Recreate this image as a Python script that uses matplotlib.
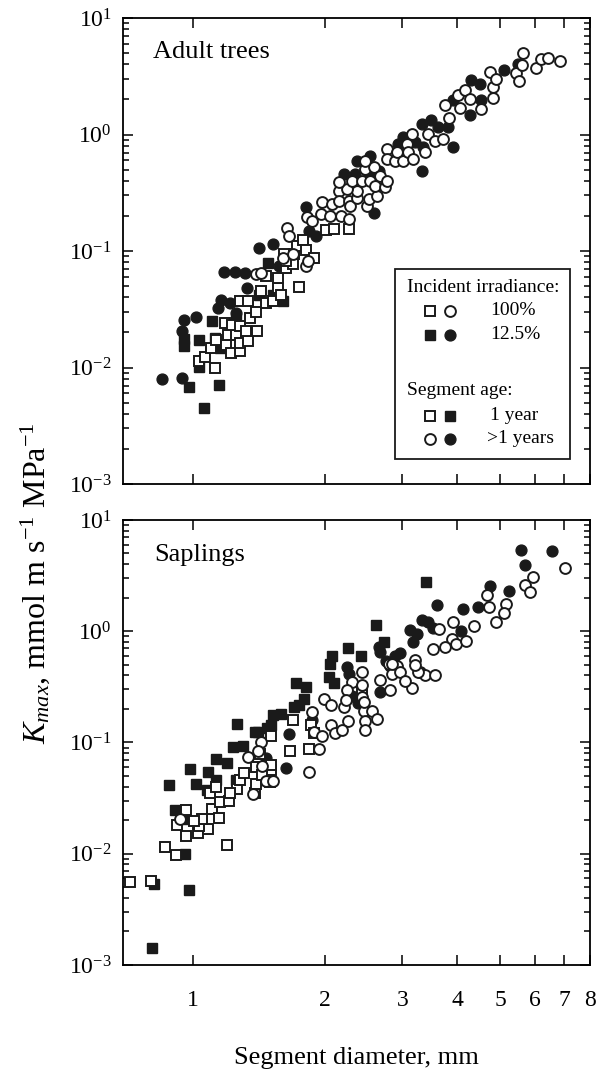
import matplotlib
matplotlib.use("Agg")
import matplotlib.pyplot as plt
from matplotlib.ticker import FixedLocator, NullLocator, NullFormatter, LogLocator
from matplotlib.patches import Rectangle

plt.rcParams['font.family'] = ['Liberation Serif', 'DejaVu Serif']
plt.rcParams['mathtext.fontset'] = 'custom'
plt.rcParams['mathtext.rm'] = 'Liberation Serif'
plt.rcParams['mathtext.it'] = 'Liberation Serif:italic'
plt.rcParams['mathtext.bf'] = 'Liberation Serif:bold'
plt.rcParams['axes.unicode_minus'] = False

# ---- Adult trees ----
# open squares: 100% irradiance, 1 year segments
adult_sq_open_d = [1.035, 1.123, 1.066, 1.104, 1.133, 1.193, 1.224, 1.279, 1.203, 1.257,
                   1.283, 1.335, 1.183, 1.231, 1.279, 1.324, 1.352, 1.405, 1.279, 1.335,
                   1.395, 1.431, 1.469, 1.525, 1.561, 1.588, 1.469, 1.561, 1.630, 1.616,
                   1.701, 1.688, 1.747, 1.732, 1.783, 1.809, 1.889, 2.007, 2.096, 2.266, 1.630]
adult_sq_open_k = [0.0114, 0.00986, 0.0124, 0.0147, 0.0173, 0.0157, 0.0133, 0.0139, 0.0191, 0.0191,
                   0.0162, 0.0168, 0.0241, 0.0233, 0.0226, 0.0204, 0.0266, 0.0207, 0.0371, 0.0371,
                   0.030, 0.0452, 0.0359, 0.0371, 0.0483, 0.0423, 0.0609, 0.0589, 0.0718, 0.0936,
                   0.0936, 0.0767, 0.0489, 0.110, 0.124, 0.103, 0.0876, 0.151, 0.154, 0.154, 0.082]
# filled squares: 12.5% irradiance, 1 year segments
adult_sq_fill_d = [0.983, 1.063, 1.147, 1.035, 0.956, 0.956, 1.035, 1.108, 1.123, 1.481,
                   1.602, 1.520, 1.419, 1.257, 1.153]
adult_sq_fill_k = [0.00677, 0.00446, 0.0071, 0.0101, 0.0152, 0.0177, 0.0173, 0.0253, 0.0179, 0.0793,
                   0.0371, 0.0423, 0.0423, 0.0258, 0.0147]
# open circles: 100% irradiance, >1 year segments
adult_ci_open_d = [1.395, 1.431, 1.602, 1.644, 1.659, 1.688, 1.815, 1.828, 1.825, 1.955,
                   1.972, 2.059, 2.078, 2.151, 2.151, 2.170, 2.266, 2.266, 2.286, 2.366,
                   2.366, 2.246, 2.151, 2.306, 2.429, 2.536, 2.471, 2.580, 2.471, 2.493,
                   2.515, 2.626, 2.672, 2.603, 2.742, 2.766, 2.766, 2.766, 2.888, 2.913,
                   3.017, 3.070, 3.096, 3.150, 3.177, 3.376, 3.435, 3.557, 3.714, 3.746,
                   3.825, 4.015, 4.050, 4.157, 4.266, 4.533, 4.735, 4.818, 4.818, 4.902,
                   5.438, 5.535, 5.604, 5.634, 6.036, 6.195, 6.413, 6.844, 1.873]
adult_ci_open_k = [0.063, 0.065, 0.0876, 0.159, 0.135, 0.0936, 0.0743, 0.082, 0.194, 0.207,
                   0.261, 0.200, 0.253, 0.329, 0.270, 0.200, 0.188, 0.270, 0.244, 0.288,
                   0.329, 0.340, 0.388, 0.401, 0.401, 0.401, 0.506, 0.523, 0.597, 0.244,
                   0.279, 0.298, 0.443, 0.363, 0.352, 0.401, 0.752, 0.617, 0.597, 0.705,
                   0.597, 0.831, 0.705, 1.01, 0.617, 0.705, 1.01, 0.888, 0.918, 1.78,
                   1.39, 2.17, 1.70, 2.40, 2.03, 1.66, 3.45, 2.56, 2.07, 3.02,
                   3.38, 2.88, 3.99, 5.02, 3.76, 4.49, 4.58, 4.29, 0.181]
# filled circles: 12.5% irradiance, >1 year segments
adult_ci_fill_d = [0.851, 0.944, 0.956, 0.944, 1.021, 1.177, 1.246, 1.317, 1.331, 1.162,
                   1.143, 1.214, 1.257, 1.419, 1.520, 1.575, 1.809, 1.841, 1.906, 2.208,
                   2.366, 2.346, 2.536, 2.515, 2.649, 2.580, 2.939, 3.017, 3.204, 3.346,
                   3.316, 3.316, 3.477, 3.619, 3.812, 3.913, 3.913, 4.304, 4.494, 4.266,
                   4.533, 5.101, 5.486]
adult_ci_fill_k = [0.00793, 0.0082, 0.0258, 0.0204, 0.027, 0.0664, 0.0664, 0.065, 0.0483, 0.0383,
                   0.0325, 0.0359, 0.0294, 0.107, 0.116, 0.0743, 0.240, 0.149, 0.135, 0.458,
                   0.597, 0.458, 0.659, 0.458, 0.489, 0.214, 0.831, 0.961, 0.859, 0.777,
                   0.489, 1.22, 1.34, 1.16, 1.16, 0.777, 1.96, 2.92, 2.73, 1.46,
                   1.96, 3.61, 4.06]

# ---- Saplings ----
sap_sq_open_d = [0.722, 0.805, 0.866, 0.915, 1.197, 0.920, 0.969, 1.028, 1.084, 1.033,
                 1.051, 1.007, 0.964, 1.109, 1.147, 1.152, 1.094, 1.208, 1.264, 1.214,
                 1.279, 1.389, 1.394, 1.312, 1.394, 1.133, 1.69, 1.51, 1.51, 1.50,
                 1.51, 1.44, 1.42, 1.67, 1.84, 1.86, 1.89, 2.43]
sap_sq_open_k = [0.00557, 0.00569, 0.0115, 0.0098, 0.0119, 0.0183, 0.0145, 0.0152, 0.0167, 0.0177,
                 0.0204, 0.0196, 0.0246, 0.0252, 0.0211, 0.0294, 0.035, 0.0299, 0.0381, 0.035,
                 0.0464, 0.035, 0.042, 0.053, 0.0603, 0.0394, 0.160, 0.115, 0.0565, 0.0439,
                 0.0631, 0.0508, 0.0782, 0.084, 0.0872, 0.145, 0.121, 0.277]
sap_sq_fill_d = [1.261, 1.389, 1.235, 1.301, 1.133, 1.197, 0.986, 1.084, 0.885, 1.021,
                 1.079, 1.133, 0.912, 0.961, 0.961, 0.819, 0.982, 1.257, 0.808,
                 2.10, 1.72, 1.81, 1.79, 1.75, 1.70, 1.59, 1.52, 1.51, 1.48, 1.41,
                 2.61, 2.72, 2.26, 2.41, 2.08, 2.05, 2.04, 3.40]
sap_sq_fill_k = [0.148, 0.124, 0.0912, 0.0925, 0.0711, 0.0658, 0.0577, 0.0547, 0.0415, 0.042,
                 0.0374, 0.0464, 0.0246, 0.0204, 0.00994, 0.00532, 0.00476, 0.0464, 0.00143,
                 0.340, 0.340, 0.318, 0.245, 0.215, 0.208, 0.182, 0.176, 0.145, 0.136, 0.123,
                 1.14, 0.797, 0.708, 0.594, 0.594, 0.504, 0.387, 2.77]
sap_ci_open_d = [7.02, 5.93, 5.69, 5.86, 4.67, 4.71, 5.16, 5.11, 4.90, 3.90,
                 4.36, 3.63, 3.88, 3.98, 4.19, 3.52, 3.74, 3.20, 2.43, 2.79,
                 2.91, 3.29, 3.37, 3.56, 2.67, 2.84, 2.30, 1.99, 2.06, 1.87,
                 1.89, 1.97, 2.06, 1.43, 0.936, 1.335, 1.370, 1.406, 1.47, 1.52,
                 1.44, 1.84, 1.94, 2.21, 2.26, 2.45, 2.47, 2.47, 2.56, 2.62,
                 2.43, 2.81, 3.15, 2.45, 2.11, 2.19, 2.25, 2.23, 2.43,
                 2.96, 3.04, 3.26, 2.84, 3.20]
sap_ci_open_k = [3.72, 3.06, 2.60, 2.23, 2.10, 1.66, 1.75, 1.46, 1.22, 1.22,
                 1.11, 1.05, 0.851, 0.771, 0.824, 0.690, 0.723, 0.556, 0.427, 0.504,
                 0.488, 0.427, 0.401, 0.401, 0.363, 0.414, 0.351, 0.245, 0.215, 0.188,
                 0.123, 0.115, 0.145, 0.101, 0.0207, 0.0734, 0.0345, 0.0838, 0.0455, 0.0455,
                 0.0608, 0.0545, 0.0872, 0.207, 0.155, 0.193, 0.155, 0.130, 0.193, 0.161,
                 0.257, 0.297, 0.308, 0.231, 0.121, 0.130, 0.298, 0.239, 0.331,
                 0.427, 0.356, 0.427, 0.511, 0.493]
sap_ci_fill_d = [5.58, 6.55, 5.69, 4.75, 5.25, 3.60, 4.12, 4.45, 3.32, 3.43,
                 3.52, 4.08, 3.12, 3.23, 3.17, 2.65, 2.67, 2.96, 2.89, 2.76,
                 2.81, 2.24, 2.27, 1.66, 1.87, 2.67, 1.63, 1.47, 2.30, 2.38]
sap_ci_fill_k = [5.35, 5.25, 3.93, 2.56, 2.31, 1.73, 1.57, 1.64, 1.25, 1.22,
                 1.07, 1.00, 1.02, 0.94, 0.798, 0.723, 0.655, 0.634, 0.594, 0.538,
                 0.488, 0.472, 0.414, 0.119, 0.160, 0.286, 0.0586, 0.0729, 0.26, 0.224]

xticks = [1, 2, 3, 4, 5, 6, 7, 8]
xtick_labels = ['1', '2', '3', '4', '5', '6', '7', '8']


def style_axis(ax, show_xlabels):
    ax.set_xscale('log')
    ax.set_yscale('log')
    ax.set_xlim(0.695, 8.0)
    ax.set_ylim(1e-3, 1e1)
    ax.xaxis.set_major_locator(FixedLocator(xticks))
    ax.xaxis.set_minor_locator(NullLocator())
    if show_xlabels:
        ax.set_xticklabels(xtick_labels)
    else:
        ax.xaxis.set_major_formatter(NullFormatter())
    ax.xaxis.set_minor_formatter(NullFormatter())
    ax.yaxis.set_major_locator(LogLocator(base=10, numticks=10))
    ax.yaxis.set_minor_locator(LogLocator(base=10, subs=range(2, 10), numticks=10))
    ax.yaxis.set_minor_formatter(NullFormatter())
    ax.tick_params(which='both', direction='in', top=True, right=True, width=1.1)
    ax.tick_params(which='major', length=7, labelsize=17, pad=8)
    ax.tick_params(axis='x', which='major', pad=18)
    ax.tick_params(which='minor', length=4)
    for s in ax.spines.values():
        s.set_linewidth(1.3)


def draw(ax, sq_open, sq_fill, ci_open, ci_fill):
    ax.plot(sq_fill[0], sq_fill[1], linestyle='none', marker='s', ms=6.8,
            mfc='#1a1a1a', mec='#1a1a1a', mew=1.0, zorder=3)
    ax.plot(ci_fill[0], ci_fill[1], linestyle='none', marker='o', ms=7.8,
            mfc='#1a1a1a', mec='#1a1a1a', mew=1.0, zorder=3)
    ax.plot(sq_open[0], sq_open[1], linestyle='none', marker='s', ms=6.8,
            mfc='white', mec='#1a1a1a', mew=1.4, zorder=4)
    ax.plot(ci_open[0], ci_open[1], linestyle='none', marker='o', ms=7.8,
            mfc='white', mec='#1a1a1a', mew=1.4, zorder=4)


fig = plt.figure(figsize=(6, 10.79), dpi=100)
ax1 = fig.add_axes([0.205, 0.5514, 0.778, 0.4319])
ax2 = fig.add_axes([0.205, 0.1057, 0.778, 0.4124])

draw(ax1, (adult_sq_open_d, adult_sq_open_k), (adult_sq_fill_d, adult_sq_fill_k),
     (adult_ci_open_d, adult_ci_open_k), (adult_ci_fill_d, adult_ci_fill_k))
draw(ax2, (sap_sq_open_d, sap_sq_open_k), (sap_sq_fill_d, sap_sq_fill_k),
     (sap_ci_open_d, sap_ci_open_k), (sap_ci_fill_d, sap_ci_fill_k))

style_axis(ax1, False)
style_axis(ax2, True)

ax1.text(0.064, 0.927, 'Adult trees', transform=ax1.transAxes, fontsize=19, va='center')
ax2.text(0.066, 0.922, 'Saplings', transform=ax2.transAxes, fontsize=19, va='center')

# legend box (drawn by hand, as in the original figure)
ax1.add_patch(Rectangle((0.582, 0.054), 0.375, 0.408, transform=ax1.transAxes,
                        facecolor='white', edgecolor='#1a1a1a', lw=1.3, zorder=5))
lt = dict(transform=ax1.transAxes, fontsize=14, va='center', zorder=6)
ax1.text(0.608, 0.422, 'Incident irradiance:', **lt)
ax1.text(0.786, 0.372, '100%', **lt)
ax1.text(0.786, 0.320, '12.5%', **lt)
ax1.text(0.608, 0.201, 'Segment age:', **lt)
ax1.text(0.786, 0.147, '1 year', **lt)
ax1.text(0.779, 0.097, '>1 years', **lt)
mk = dict(transform=ax1.transAxes, linestyle='none', zorder=6, clip_on=False, mec='#1a1a1a')
sq = dict(marker='s', ms=6.8)
ci = dict(marker='o', ms=7.8)
ax1.plot([0.657], [0.372], mfc='white', mew=1.4, **sq, **mk)
ax1.plot([0.700], [0.372], mfc='white', mew=1.4, **ci, **mk)
ax1.plot([0.657], [0.320], mfc='#1a1a1a', **sq, **mk)
ax1.plot([0.700], [0.320], mfc='#1a1a1a', **ci, **mk)
ax1.plot([0.657], [0.147], mfc='white', mew=1.4, **sq, **mk)
ax1.plot([0.700], [0.147], mfc='#1a1a1a', **sq, **mk)
ax1.plot([0.657], [0.097], mfc='white', mew=1.4, **ci, **mk)
ax1.plot([0.700], [0.097], mfc='#1a1a1a', **ci, **mk)

ax2.set_xlabel('Segment diameter, mm', fontsize=19, labelpad=26)
fig.text(0.058, 0.46, r'$K_{max}$, mmol m s$^{-1}$ MPa$^{-1}$', rotation=90,
         fontsize=23, ha='center', va='center')

fig.savefig('out.png', dpi=100)
